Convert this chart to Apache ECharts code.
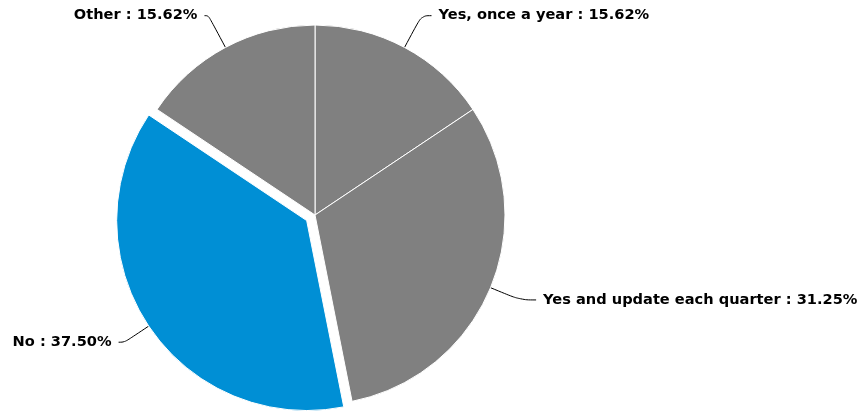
<!DOCTYPE html>
<html>
<head>
<meta charset="utf-8">
<script src="https://cdn.jsdelivr.net/npm/echarts@6/dist/echarts.min.js"></script>
<style>
  html, body { margin: 0; padding: 0; background: #fff; }
  #chart { width: 865px; height: 411px; }
</style>
</head>
<body>
<div id="chart"></div>
<script>
// Survey answers and their shares (percent)
const categories = ['Yes, once a year', 'Yes and update each quarter', 'No', 'Other'];
const shares = [15.62, 31.25, 37.50, 15.62];
const sliceColors = ['#808080', '#808080', '#008fd5', '#808080'];
const pulledOut = ['No'];
// Connector lengths per slice: [radial part, horizontal part]
const connectors = [[36, 10], [32, 16], [29, 6], [36, 4]];

const chart = echarts.init(document.getElementById('chart'), null, { renderer: 'canvas' });

const data = categories.map((name, i) => ({
  name: name,
  value: shares[i],
  selected: pulledOut.includes(name),
  itemStyle: { color: sliceColors[i] },
  labelLine: { length: connectors[i][0], length2: connectors[i][1] }
}));

chart.setOption({
  animation: false,
  series: [{
    type: 'pie',
    center: [315, 215],
    radius: [0, 190],
    startAngle: 90,
    clockwise: true,
    selectedMode: 'single',
    selectedOffset: 10,
    avoidLabelOverlap: false,
    data: data,
    itemStyle: { borderColor: '#ffffff', borderWidth: 1 },
    emphasis: { disabled: true },
    label: {
      show: true,
      color: '#000',
      fontFamily: 'DejaVu Sans, Verdana, sans-serif',
      fontWeight: 'bold',
      fontSize: 14.6,
      distanceToLabelLine: 7,
      formatter: p => p.name + ' : ' + p.value.toFixed(2) + '%'
    },
    labelLine: {
      show: true,
      smooth: 0.4,
      lineStyle: { color: '#000', width: 1 }
    }
  }]
});
</script>
</body>
</html>
